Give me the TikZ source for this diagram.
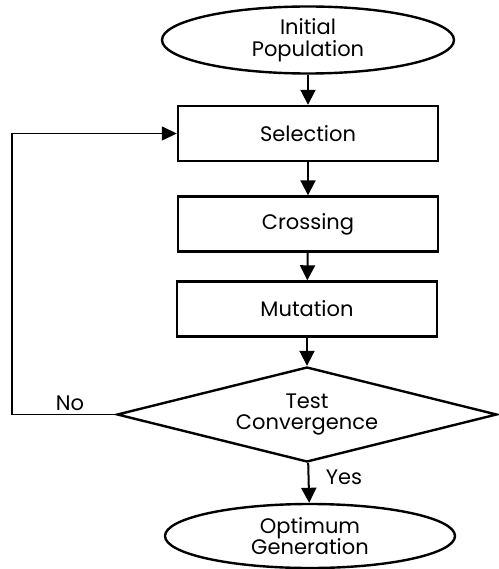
\documentclass[tikz,border=0pt]{standalone}
\usepackage{fontspec}
\setmainfont{Poppins}
\usetikzlibrary{shapes.geometric,arrows.meta}
\tikzset{
  txt/.style={font=\fontsize{21}{21.5}\selectfont},
  term/.style={ellipse,draw,line width=2.4pt,inner sep=0pt,align=center,txt},
  procbox/.style={rectangle,draw,line width=2.4pt,inner sep=0pt,minimum width=260pt,minimum height=55pt,txt},
  decide/.style={diamond,draw,line width=2.4pt,inner sep=0pt,shape aspect=4,minimum width=380pt,minimum height=95pt,align=center,txt},
  flow/.style={line width=2pt,-{Triangle[length=15pt,width=15pt]}},
  back/.style={line width=1.4pt,-{Triangle[length=15pt,width=14pt]}},
  lbl/.style={txt}
}
\begin{document}
\begin{tikzpicture}[x=1pt,y=1pt]
\useasboundingbox (0,0) rectangle (498,-569);
\node[term,minimum width=292pt,minimum height=67pt] (init) at (308,-40) {Initial\\Population};
\node[procbox] (sel) at (308,-133.5) {Selection};
\node[procbox] (cross) at (308,-224) {Crossing};
\node[procbox] (mut) at (307,-309) {Mutation};
\node[decide] (test) at (307,-414.5) {Test\\Convergence};
\node[term,minimum width=290pt,minimum height=64pt] (opt) at (310,-536) {Optimum\\Generation};
\coordinate (nocorner) at (12,-414.5);
\draw[flow] (init) -- (sel);
\draw[flow] (sel) -- (cross);
\draw[flow] (cross) -- (mut);
\draw[flow] (mut) -- (test);
\draw[flow] (test) -- (opt);
\draw[back] (test.west) -- (nocorner) |- (sel.west);
\node[lbl] (no) at (70,-403) {No};
\node[lbl] (yes) at (344,-477) {Yes};
\end{tikzpicture}
\end{document}
